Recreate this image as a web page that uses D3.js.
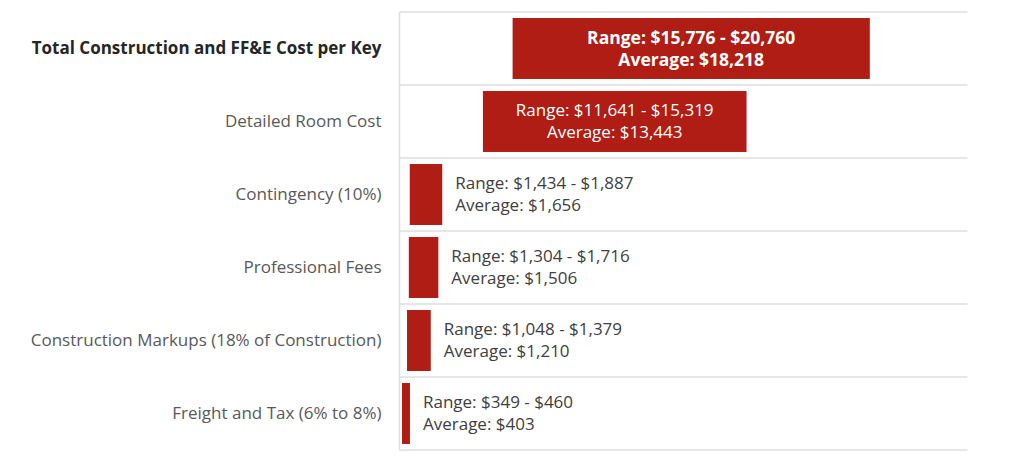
<!DOCTYPE html>
<html>
<head>
<meta charset="utf-8">
<script src="https://cdn.jsdelivr.net/npm/d3@7/dist/d3.min.js"></script>
<style>
  html, body { margin: 0; padding: 0; background: #ffffff; }
  svg { display: block; font-family: "Open Sans", "Noto Sans", sans-serif; }
</style>
</head>
<body>
<svg id="chart" width="1024" height="462"></svg>
<script>
const categories = [
  "Total Construction and FF&E Cost per Key",
  "Detailed Room Cost",
  "Contingency (10%)",
  "Professional Fees",
  "Construction Markups (18% of Construction)",
  "Freight and Tax (6% to 8%)"
];
const rangeLow  = [15776, 11641, 1434, 1304, 1048, 349];
const rangeHigh = [20760, 15319, 1887, 1716, 1379, 460];
const averages  = [18218, 13443, 1656, 1506, 1210, 403];
// invisible stacked base segment (as drawn in the original chart)
const baseOffset = [1578, 1164, 143, 130, 105, 35];
const xMax = 7925;

const svg = d3.select("#chart");
const plotLeft = 399.5, plotRight = 967.5, plotTop = 12, plotBottom = 450;

const x = d3.scaleLinear().domain([0, xMax]).range([plotLeft, plotRight]);
const rows = d3.scaleBand().domain(categories).range([plotTop, plotBottom]).padding(0);
const y = d3.scaleBand().domain(categories).range([plotTop, plotBottom])
  .paddingInner(0.165).paddingOuter(0.0825);

const fmt = d3.format("$,");
const data = categories.map((c, i) => ({
  cat: c, low: rangeLow[i], high: rangeHigh[i], avg: averages[i],
  base: baseOffset[i], width: rangeHigh[i] - rangeLow[i], i
}));

// gridlines at row boundaries
const bounds = categories.map(c => rows(c)).concat([plotBottom]);
svg.append("g").selectAll("line").data(bounds).join("line")
  .attr("x1", plotLeft).attr("x2", plotRight)
  .attr("y1", d => d).attr("y2", d => d)
  .attr("stroke", "#dedede").attr("stroke-width", 1.5);

// left axis line
svg.append("line")
  .attr("x1", plotLeft).attr("x2", plotLeft).attr("y1", plotTop).attr("y2", plotBottom)
  .attr("stroke", "#dedede").attr("stroke-width", 1.5);

// category labels
svg.append("g").selectAll("text").data(data).join("text")
  .attr("x", plotLeft - 18)
  .attr("y", d => rows(d.cat) + rows.bandwidth() / 2)
  .attr("dy", "0.35em")
  .attr("text-anchor", "end")
  .attr("font-size", 17)
  .attr("font-weight", d => d.i === 0 ? 700 : 400)
  .attr("fill", d => d.i === 0 ? "#262626" : "#595959")
  .text(d => d.cat);

// bars
svg.append("g").selectAll("rect").data(data).join("rect")
  .attr("x", d => x(d.base))
  .attr("y", d => y(d.cat))
  .attr("width", d => x(d.base + d.width) - x(d.base))
  .attr("height", y.bandwidth())
  .attr("fill", "#B01D14");

// value labels
const lbl = svg.append("g").selectAll("text").data(data).join("text")
  .attr("font-size", d => d.i === 0 ? 17.5 : 17)
  .attr("font-weight", d => d.i === 0 ? 700 : 400)
  .attr("fill", d => d.i < 2 ? "#ffffff" : "#404040")
  .attr("text-anchor", d => d.i < 2 ? "middle" : "start");

lbl.each(function(d) {
  const t = d3.select(this);
  const cx = d.i < 2 ? (x(d.base) + x(d.base + d.width)) / 2 : x(d.base + d.width) + 13;
  const cy = rows(d.cat) + rows.bandwidth() / 2;
  t.append("tspan").attr("x", cx).attr("y", cy - 11).attr("dy", "0.35em")
    .text(`Range: ${fmt(d.low)} - ${fmt(d.high)}`);
  t.append("tspan").attr("x", cx).attr("y", cy + 11).attr("dy", "0.35em")
    .text(`Average: ${fmt(d.avg)}`);
});
</script>
</body>
</html>
